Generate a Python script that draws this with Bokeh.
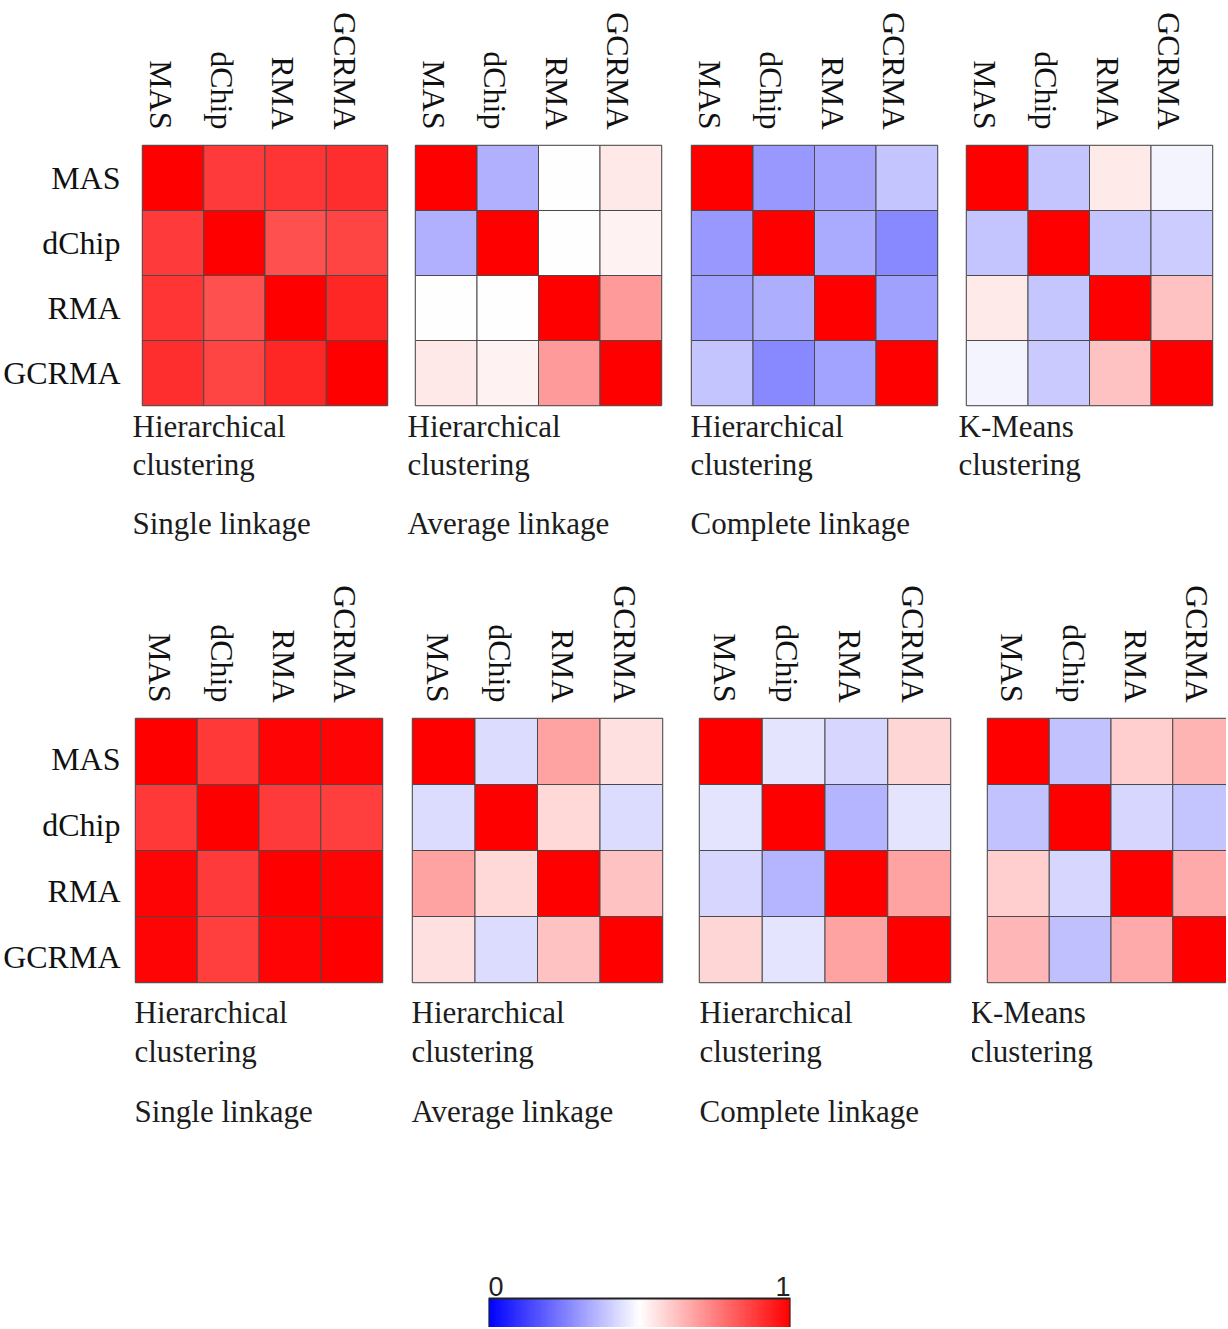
import numpy as np
from bokeh.plotting import figure
from bokeh.models import Range1d, FixedTicker, LinearColorMapper, Title, ColumnDataSource
from bokeh.layouts import column, row
from bokeh.embed import file_html
from bokeh.resources import INLINE
from bokeh.core.properties import value
from bokeh.transform import transform

# ---------------- data ----------------
methods = ["MAS", "dChip", "RMA", "GCRMA"]

# similarity matrices (rows top->bottom, columns left->right, order = methods)
top_single = [[1.000, 0.886, 0.896, 0.910],
              [0.886, 1.000, 0.843, 0.864],
              [0.896, 0.843, 1.000, 0.925],
              [0.910, 0.864, 0.925, 1.000]]
top_average = [[1.000, 0.345, 0.500, 0.545],
               [0.345, 1.000, 0.500, 0.525],
               [0.500, 0.500, 1.000, 0.698],
               [0.545, 0.525, 0.698, 1.000]]
top_complete = [[1.000, 0.298, 0.322, 0.384],
                [0.298, 1.000, 0.335, 0.267],
                [0.314, 0.341, 1.000, 0.314],
                [0.384, 0.267, 0.318, 1.000]]
top_kmeans = [[1.000, 0.384, 0.541, 0.478],
              [0.384, 1.000, 0.384, 0.400],
              [0.541, 0.388, 1.000, 0.620],
              [0.478, 0.396, 0.620, 1.000]]

bottom_single = [[1.000, 0.890, 0.990, 0.990],
                 [0.890, 1.000, 0.886, 0.876],
                 [0.990, 0.886, 1.000, 0.990],
                 [0.990, 0.876, 0.990, 1.000]]
bottom_average = [[1.000, 0.430, 0.682, 0.560],
                  [0.430, 1.000, 0.576, 0.430],
                  [0.682, 0.576, 1.000, 0.620],
                  [0.560, 0.430, 0.620, 1.000]]
bottom_complete = [[1.000, 0.447, 0.420, 0.580],
                   [0.447, 1.000, 0.353, 0.447],
                   [0.420, 0.353, 1.000, 0.682],
                   [0.580, 0.447, 0.682, 1.000]]
bottom_kmeans = [[1.000, 0.380, 0.594, 0.647],
                 [0.380, 1.000, 0.420, 0.384],
                 [0.594, 0.420, 1.000, 0.667],
                 [0.643, 0.376, 0.667, 1.000]]

caption_line1 = ["Hierarchical", "Hierarchical", "Hierarchical", "K-Means"]
caption_line2 = ["clustering", "clustering", "clustering", "clustering"]
caption_line3 = ["Single linkage", "Average linkage", "Complete linkage", ""]

colorbar_ticks = [0, 1]

# ---------------- style ----------------
SERIF = "Liberation Serif"


def make_palette(n=256):
    pal = []
    for i in range(n):
        t = i / (n - 1)
        if t < 0.5:
            s = t / 0.5
            r = g = int(round(255 * s))
            b = 255
        else:
            s = (t - 0.5) / 0.5
            r = 255
            g = b = int(round(255 * (1 - s)))
        pal.append("#%02x%02x%02x" % (r, g, b))
    return pal


mapper = LinearColorMapper(palette=make_palette(), low=0, high=1)


def make_panel(matrix, width, height, borders, show_left, x_end, label_shift,
               row_shift, left_standoff, caps, cap_offset, cap_standoffs):
    bl, br, bt, bb = borders
    n = len(methods)
    xs, ys, vals = [], [], []
    for i in range(n):
        for j in range(n):
            xs.append(j + 0.5)
            ys.append(n - i - 0.5)
            vals.append(matrix[i][j])
    src = ColumnDataSource(dict(x=xs, y=ys, v=vals))
    p = figure(width=width, height=height,
               x_range=Range1d(0, x_end), y_range=Range1d(0, n),
               x_axis_location="above",
               y_axis_location="left" if show_left else None,
               toolbar_location=None, output_backend="svg",
               min_border_left=bl, min_border_right=br,
               min_border_top=bt, min_border_bottom=bb)
    p.rect(x="x", y="y", width=1, height=1, source=src,
           fill_color=transform("v", mapper), line_color="#4a4a4a",
           line_width=1)
    p.grid.visible = False
    p.outline_line_color = "#5a5a5a"
    p.outline_line_width = 1.5
    p.background_fill_color = "white"
    p.border_fill_color = "white"

    xt = [j + 0.5 - label_shift for j in range(n)]
    p.xaxis.ticker = FixedTicker(ticks=xt)
    p.xaxis.major_label_overrides = {t: m for t, m in zip(xt, methods)}
    p.xaxis.major_label_orientation = -np.pi / 2
    p.xaxis.major_label_standoff = 16
    axes = list(p.xaxis)
    if show_left:
        yt = [n - i - 0.5 - row_shift for i in range(n)]
        p.yaxis.ticker = FixedTicker(ticks=yt)
        p.yaxis.major_label_overrides = {t: m for t, m in zip(yt, methods)}
        p.yaxis.major_label_standoff = left_standoff
        axes += list(p.yaxis)
    for ax in axes:
        ax.axis_line_color = None
        ax.major_tick_line_color = None
        ax.minor_tick_line_color = None
        ax.major_tick_out = 0
        ax.major_tick_in = 0
        ax.minor_tick_out = 0
        ax.major_label_text_font = SERIF
        ax.major_label_text_font_size = "32px"
        ax.major_label_text_color = "#111111"

    for text, so in zip(caps, cap_standoffs):
        if text:
            p.add_layout(Title(text=text, align="left", offset=cap_offset,
                               text_font=SERIF, text_font_size="31px",
                               text_font_style="normal", text_color="#1c1c1c",
                               standoff=so), "below")
    return p


top_mats = [top_single, top_average, top_complete, top_kmeans]
bot_mats = [bottom_single, bottom_average, bottom_complete, bottom_kmeans]

top_widths = [401, 276, 275, 274]
top_borders = [(142, 14, 145, 160), (14, 16, 145, 160),
               (14, 15, 145, 160), (14, 14, 145, 160)]
top_offsets = [-10, -8, -1, -8]
bot_widths = [397, 287, 288, 254]
bot_borders = [(133, 15, 153, 180), (15, 22, 153, 180),
               (15, 22, 153, 180), (15, 0, 153, 180)]
bot_offsets = [-1, -1, 0, -17]
bot_xend = [4, 4, 4, 3.87]

top_panels = []
for k in range(4):
    caps = [caption_line1[k], caption_line2[k], caption_line3[k]]
    top_panels.append(make_panel(top_mats[k], top_widths[k], 565, top_borders[k],
                                 k == 0, 4, 0.2, 0.0, 22, caps, top_offsets[k],
                                 [3, -1, 45]))
bot_panels = []
for k in range(4):
    caps = [caption_line1[k], caption_line2[k], caption_line3[k]]
    bot_panels.append(make_panel(bot_mats[k], bot_widths[k], 597, bot_borders[k],
                                 k == 0, bot_xend[k], 0.1, 0.12, 15, caps,
                                 bot_offsets[k], [21, -17, 63]))

# ---------------- colour bar ----------------
cb = figure(width=1226, height=165, x_range=Range1d(0, 1), y_range=Range1d(0, 1),
            x_axis_location=None, y_axis_location=None,
            toolbar_location=None, output_backend="svg",
            min_border_left=488, min_border_right=436,
            min_border_top=108, min_border_bottom=0)
cb.grid.visible = False
cb.outline_line_color = None
cb.image(image=[np.linspace(0, 1, 256).reshape(1, 256)], x=0, y=-1, dw=1, dh=1.509,
         color_mapper=mapper)
cb.quad(left=0, right=1, bottom=-1, top=0.509, fill_color=None,
        line_color="#222222", line_width=2)
cb.text(x=[colorbar_ticks[0]], y=[0.72], text=[str(colorbar_ticks[0])],
        text_align="left", text_baseline="alphabetic",
        text_font=value("Liberation Sans"), text_font_size="27px",
        text_color="#222222")
cb.text(x=[colorbar_ticks[1]], y=[0.72], text=[str(colorbar_ticks[1])],
        text_align="right", text_baseline="alphabetic",
        text_font=value("Liberation Sans"), text_font_size="27px",
        text_color="#222222")

layout = column(row(*top_panels), row(*bot_panels), cb)

with open("out.html", "w") as f:
    f.write(file_html(layout, INLINE))
